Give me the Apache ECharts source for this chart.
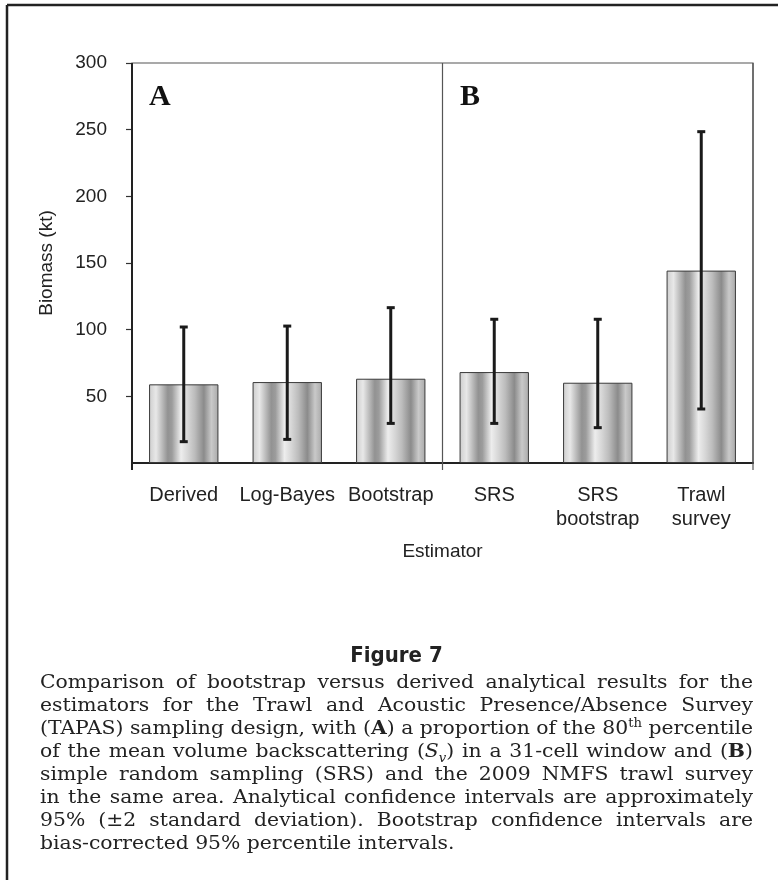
<!DOCTYPE html>
<html>
<head>
<meta charset="utf-8">
<title>Figure 7</title>
<script src="https://cdn.jsdelivr.net/npm/echarts@6/dist/echarts.min.js"></script>
<style>
	html, body { margin: 0; padding: 0; background: #fff; }
	#main { position: absolute; left: 0; top: 0; width: 778px; height: 880px; }
	#fig { position: absolute; left: 40px; top: 642px; width: 713px; text-align: center;
		font-family: "DejaVu Sans Condensed", "DejaVu Sans", sans-serif; font-stretch: condensed;
		font-weight: bold; font-size: 22px; line-height: 26px; color: #222; }
	#cap { position: absolute; left: 40px; top: 670px; width: 713px;
		font-family: "DejaVu Serif", serif; font-size: 18.5px; line-height: 23px; color: #222; }
	#cap div { white-space: nowrap; height: 23px; }
	#cap span { display: inline-block; transform-origin: 0 50%; }
	#cap sup, #cap sub { font-size: 12px; line-height: 0; }
</style>
</head>
<body>
<div id="main"></div>
<div id="fig">Figure 7</div>
<div id="cap">
	<div><span class="ln">Comparison of bootstrap versus derived analytical results for the</span></div>
	<div><span class="ln">estimators for the Trawl and Acoustic Presence/Absence Survey</span></div>
	<div><span class="ln">(TAPAS) sampling design, with (<b>A</b>) a proportion of the 80<sup>th</sup> percentile</span></div>
	<div><span class="ln">of the mean volume backscattering (<i>S</i><sub><i>v</i></sub>) in a 31-cell window and (<b>B</b>)</span></div>
	<div><span class="ln">simple random sampling (SRS) and the 2009 NMFS trawl survey</span></div>
	<div><span class="ln">in the same area. Analytical confidence intervals are approximately</span></div>
	<div><span class="ln">95% (±2 standard deviation). Bootstrap confidence intervals are</span></div>
	<div><span class="end">bias-corrected 95% percentile intervals.</span></div>
</div>
<script type="text/javascript">
	// estimators, A = first three, B = last three
	var categories = ['Derived', 'Log-Bayes', 'Bootstrap', 'SRS', 'SRS\nbootstrap', 'Trawl\nsurvey'];
	var biomass = [59, 60.7, 63.2, 68.2, 60.2, 144.3];
	var ciLow = [16, 17.7, 29.7, 29.7, 26.5, 40.5];
	var ciHigh = [102, 102.7, 116.5, 107.8, 107.8, 248.5];
	var yMin = 0, yMax = 300, yStep = 50;
	var panelEdges = [0, 3, 6];   // category boundaries that get a vertical line
	var panelNames = ['A', 'B'];

	// caption: slight horizontal stretch, then justify the rest with word spacing
	var capW = 713, maxStretch = 1.1;
	var spans = document.querySelectorAll('#cap span');
	var sx = maxStretch;
	spans.forEach(function (el) {
		var w = el.getBoundingClientRect().width;
		sx = Math.min(sx, capW / w);
	});
	spans.forEach(function (el) {
		if (el.className === 'ln') {
			var w = el.getBoundingClientRect().width;
			var gaps = el.textContent.split(' ').length - 1;
			el.style.wordSpacing = ((capW / sx - w) / gaps) + 'px';
		}
		el.style.transform = 'scaleX(' + sx + ')';
	});

	var myChart = echarts.init(document.getElementById('main'));

	var errData = [];
	for (var i = 0; i < categories.length; i++) {
		errData.push([i, ciLow[i], ciHigh[i]]);
	}
	var edgeData = panelEdges.map(function (b) { return [b, yMin]; });

	var barFill = new echarts.graphic.LinearGradient(0, 0, 1, 0, [
		{offset: 0, color: '#cdcdcd'},
		{offset: 0.1, color: '#e8e8e8'},
		{offset: 0.27, color: '#929292'},
		{offset: 0.33, color: '#9c9c9c'},
		{offset: 0.46, color: '#ededed'},
		{offset: 0.56, color: '#d6d6d6'},
		{offset: 0.66, color: '#bcbcbc'},
		{offset: 0.79, color: '#8b8b8b'},
		{offset: 0.9, color: '#c9c9c9'},
		{offset: 1, color: '#a9a9a9'}
	]);

	var option = {
		animation: false,
		backgroundColor: '#fff',
		textStyle: {fontFamily: '"Liberation Sans", Arial, sans-serif', color: '#222'},
		grid: {
			left: 132, right: 25, top: 63, bottom: 417,
			show: true, borderColor: '#555', borderWidth: 1.2
		},
		xAxis: {
			type: 'category',
			data: categories,
			axisLine: {lineStyle: {color: '#222', width: 2}},
			axisTick: {show: false},
			axisLabel: {fontSize: 20, lineHeight: 24, margin: 20, color: '#222', interval: 0},
			name: 'Estimator',
			nameLocation: 'middle',
			nameGap: 79,
			nameTextStyle: {fontSize: 19, color: '#222'}
		},
		yAxis: {
			type: 'value',
			min: yMin, max: yMax, interval: yStep,
			axisLine: {show: false},
			axisTick: {show: true, length: 6, lineStyle: {color: '#333', width: 1.2}},
			axisLabel: {fontSize: 19, margin: 25, color: '#222', showMinLabel: false},
			splitLine: {show: false},
			name: 'Biomass (kt)',
			nameLocation: 'middle',
			nameGap: 76,
			nameTextStyle: {fontSize: 19, color: '#222'}
		},
		graphic: [
			{type: 'line', shape: {x1: 7, y1: 5, x2: 778, y2: 5}, style: {stroke: '#222', lineWidth: 2.5}},
			{type: 'line', shape: {x1: 7, y1: 5, x2: 7, y2: 880}, style: {stroke: '#222', lineWidth: 2.5}},
			{type: 'text', left: 149, top: 82, style: {text: panelNames[0], font: 'bold 30px "Liberation Serif", serif', fill: '#111'}},
			{type: 'text', left: 460, top: 82, style: {text: panelNames[1], font: 'bold 30px "Liberation Serif", serif', fill: '#111'}}
		],
		series: [
			{
				type: 'bar',
				data: biomass,
				barWidth: '67%',
				itemStyle: {color: barFill, borderColor: '#3a3a3a', borderWidth: 1}
			},
			{
				type: 'custom',
				clip: false,
				z: 5,
				data: errData,
				renderItem: function (params, api) {
					var lo = api.coord([api.value(0), api.value(1)]);
					var hi = api.coord([api.value(0), api.value(2)]);
					var st = {stroke: '#1a1a1a', lineWidth: 3};
					return {type: 'group', children: [
						{type: 'line', shape: {x1: hi[0], y1: hi[1], x2: lo[0], y2: lo[1]}, style: st},
						{type: 'line', shape: {x1: hi[0] - 4, y1: hi[1], x2: hi[0] + 4, y2: hi[1]}, style: st},
						{type: 'line', shape: {x1: lo[0] - 4, y1: lo[1], x2: lo[0] + 4, y2: lo[1]}, style: st}
					]};
				}
			},
			{
				// left axis, A|B divider and right edge, each running a bit below the x axis
				type: 'custom',
				clip: false,
				z: 4,
				data: edgeData,
				renderItem: function (params, api) {
					var b = panelEdges[params.dataIndex];
					var n = categories.length;
					var idx = Math.min(b, n - 1);
					var bandW = api.size([1, 0])[0];
					var x = api.coord([idx, yMin])[0] + (b < n ? -0.5 : 0.5) * bandW;
					var y0 = api.coord([idx, yMin])[1];
					var y1 = api.coord([idx, yMax])[1];
					var first = b === 0;
					return {
						type: 'line',
						shape: {x1: x, y1: y1, x2: x, y2: y0 + 7},
						style: {stroke: first ? '#222' : '#555', lineWidth: first ? 2 : 1.2}
					};
				}
			}
		]
	};
	myChart.setOption(option);
</script>
</body>
</html>
